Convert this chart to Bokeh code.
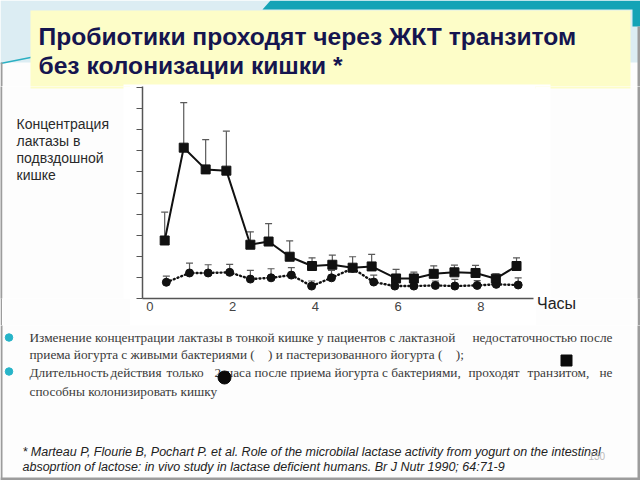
from bokeh.plotting import figure
from bokeh.layouts import column, row
from bokeh.models import (Range1d, FixedTicker, Whisker, TeeHead, ColumnDataSource, LinearAxis)
from bokeh.core.properties import value
from bokeh.embed import file_html
from bokeh.resources import INLINE

# ---------------- data ----------------
hours_live = [0.36, 0.82, 1.35, 1.85, 2.43, 2.87, 3.38, 3.92, 4.41, 4.90, 5.36, 5.95, 6.38, 6.86, 7.36, 7.87, 8.36, 8.86]
lactase_live = [2.75, 7.15, 6.12, 6.06, 2.55, 2.70, 1.98, 1.54, 1.60, 1.46, 1.52, 0.95, 0.95, 1.17, 1.24, 1.21, 0.94, 1.54]
live_err_top = [4.09, 9.29, 7.53, 7.93, 3.16, 3.55, 2.73, 1.93, 2.06, 1.98, 2.09, 1.38, 1.25, 1.55, 1.58, 1.57, 1.17, 1.93]

hours_past = [0.40, 0.96, 1.41, 1.93, 2.43, 2.93, 3.42, 3.91, 4.39, 4.90, 5.41, 5.92, 6.38, 6.90, 7.37, 7.91, 8.37, 8.90]
lactase_past = [0.77, 1.21, 1.21, 1.24, 0.92, 0.98, 1.11, 0.59, 0.98, 1.43, 0.78, 0.59, 0.59, 0.62, 0.59, 0.62, 0.67, 0.64]
past_err_top = [1.06, 1.68, 1.60, 1.62, 1.33, 1.41, 1.46, 0.83, 1.33, 1.55, 1.11, 0.85, 0.85, 0.83, 0.91, 0.85, 0.83, 0.98]

x_ticks = [0, 2, 4, 6, 8]
y_ticks = [0, 1, 2, 3, 4, 5, 6, 7, 8, 9, 10]

title_lines = ["Пробиотики проходят через ЖКТ транзитом", "без колонизации кишки *"]
y_label_lines = ["Концентрация", "лактазы в", "подвздошной", "кишке"]
x_label = "Часы"
NB = "\u00a0\u00a0\u00a0\u00a0"
# body text, justified lines split into pieces: (text, x, align, y)
body_pieces = [
    ("Изменение концентрации лактазы в тонкой кишке у пациентов с лактазной", 29, "left", 337),
    ("недостаточностью", 472, "left", 337),
    ("после", 612, "right", 337),
    ("приема йогурта с живыми бактериями (" + NB + ") и пастеризованного йогурта (" + NB + ");", 29, "left", 354),
    ("Длительность", 29, "left", 372),
    ("действия", 110, "left", 372),
    ("только", 166, "left", 372),
    ("2", 214, "left", 372),
    ("часа после приема йогурта с бактериями,", 226, "left", 372),
    ("проходят", 468, "left", 372),
    ("транзитом,", 527, "left", 372),
    ("не", 612, "right", 372),
    ("способны колонизировать кишку", 29, "left", 391),
]
foot_lines = [
    "* Marteau P, Flourie B, Pochart P. et al. Role of the microbilal lactase activity from yogurt on the intestinal",
    "absoprtion of lactose: in vivo study in lactase deficient humans. Br J Nutr 1990; 64:71-9",
]
page_no = "130"

BG = "#fdfdfd"
TEAL = "#14a3b6"
YELLOW = "#fdfdc8"
GREY = "#9c9c9c"
AXB = 27  # bottom border of the middle row (x-axis labels)


def decorate(f):
    # slide decorations in slide pixel coordinates (y downward)
    f.quad(left=0, right=640, top=0, bottom=62, color="#dcedf3", line_color=None)
    f.patch([270, 640, 640, 632, 632, 262], [0, 0, 26, 26, 9, 9], color=TEAL, line_color=None)
    f.line([0, 40], [63, 55], line_color="#2bb0c2", line_width=1.5)
    f.quad(left=30, right=630, top=10, bottom=88, color=YELLOW, line_color=None)
    f.quad(left=123, right=550, top=84, bottom=310, color="#ffffff", line_color=None)
    f.quad(left=0, right=2, top=62, bottom=480, color=GREY, line_color=None)
    f.quad(left=637, right=640, top=26, bottom=480, color=GREY, line_color=None)
    f.quad(left=0, right=640, top=477, bottom=480, color=GREY, line_color=None)


def panel(x0, y0, w, h, bottom_border=0):
    f = figure(width=w, height=h, x_range=Range1d(x0, x0 + w), y_range=Range1d(y0 + h - bottom_border, y0),
               output_backend="svg", toolbar_location=None, min_border=0,
               x_axis_type=None, y_axis_type=None)
    f.min_border_bottom = bottom_border
    f.outline_line_color = None
    f.border_fill_color = BG
    f.background_fill_color = BG
    decorate(f)
    return f


def solid(w, h, color):
    f = figure(width=w, height=h, output_backend="svg", toolbar_location=None, min_border=0,
               x_axis_type=None, y_axis_type=None, x_range=Range1d(0, 1), y_range=Range1d(0, 1))
    f.min_border_bottom = AXB
    f.outline_line_color = None
    f.border_fill_color = color
    f.background_fill_color = color
    return f


def txt(f, texts, xs, ys, size, color="#222222", font="Liberation Sans", style="normal",
        baseline="middle", align="left"):
    f.text(x=xs, y=ys, text=texts, text_font=value(font), text_font_size=value(f"{size}px"),
           text_color=color, text_font_style=value(style), text_baseline=value(baseline),
           text_align=value(align))


# ---------------- top panel: title ----------------
T = panel(0, 0, 640, 86)
txt(T, title_lines, [38, 38], [36, 65], 24.6, "#15154f", style="bold")

# ---------------- left panel: y label ----------------
Lline = solid(2, 239, GREY)
L = panel(2, 86, 128, 239, bottom_border=AXB)
txt(L, y_label_lines, [16] * 4, [123, 140, 157, 174], 14, "#2a2a2a")

# ---------------- right panel: x label as an axis label ----------------
R = panel(535, 86, 102, 239, bottom_border=AXB)
r_axis = LinearAxis(ticker=FixedTicker(ticks=[556]), major_label_overrides={556: x_label},
                    axis_line_color=None, major_tick_line_color=None, minor_tick_line_color=None,
                    major_tick_in=0, major_tick_out=0,
                    major_label_text_font="Liberation Sans", major_label_text_font_size="16px",
                    major_label_text_color="#222222", major_label_standoff=-4)
R.add_layout(r_axis, "below")
Rline = solid(3, 239, GREY)

# ---------------- bottom panel: body text ----------------
B = panel(0, 325, 640, 155)
B.scatter([8.5, 8.5], [337, 371], marker="circle", size=7.5, color="#27b4c8")
for t, x, al, y in body_pieces:
    txt(B, [t], [x], [y], 13.3, "#3a3a3a", font="Liberation Serif", align=al)
B.scatter([224], [377], marker="circle", size=13, color="#0a0a0a")
B.scatter([566], [360], marker="square", size=11, color="#0a0a0a")
txt(B, foot_lines, [22, 22], [451, 466], 12.5, "#222222", style="italic")
txt(B, [page_no], [588], [455], 10, "#bbbbbb")

# ---------------- chart ----------------
C = figure(width=405, height=239, output_backend="svg", toolbar_location=None,
           x_range=Range1d(-0.176, 9.27), y_range=Range1d(0, 10.05),
           min_border_left=12, min_border_right=2, min_border_top=0, min_border_bottom=AXB)
C.border_fill_color = "#ffffff"
C.background_fill_color = "#ffffff"
C.outline_line_color = None
C.grid.grid_line_color = None

live = ColumnDataSource(dict(x=hours_live, y=lactase_live, top=live_err_top))
past = ColumnDataSource(dict(x=hours_past, y=lactase_past, top=past_err_top))

for src in (live, past):
    w = Whisker(source=src, base="x", upper="top", lower="y", dimension="height",
                line_color="#5a5a5a", line_width=1.2, level="underlay",
                upper_head=TeeHead(size=7, line_color="#5a5a5a", line_width=1.2), lower_head=None)
    C.add_layout(w)

C.line("x", "y", source=past, line_color="#111111", line_width=2.4, line_dash="1 3", line_cap="round")
C.scatter("x", "y", source=past, marker="circle", size=8, color="#111111")
C.line("x", "y", source=live, line_color="#111111", line_width=2)
C.scatter("x", "y", source=live, marker="square", size=9, color="#111111")

C.xaxis.ticker = FixedTicker(ticks=x_ticks)
C.yaxis.ticker = FixedTicker(ticks=y_ticks)
for ax in (C.xaxis, C.yaxis):
    ax.axis_line_color = "#555555"
    ax.axis_line_width = 1.5
    ax.minor_tick_line_color = None
    ax.major_tick_line_color = "#555555"
    ax.major_tick_line_width = 1.2
C.xaxis.major_tick_out = 0
C.xaxis.major_tick_in = 0
C.xaxis.major_label_text_font = "Liberation Sans"
C.xaxis.major_label_text_font_size = "13px"
C.xaxis.major_label_text_color = "#444444"
C.xaxis.major_label_standoff = 3
C.yaxis.major_tick_out = 6
C.yaxis.major_tick_in = 0
C.yaxis.major_label_standoff = 0
C.yaxis.major_label_overrides = {t: "" for t in y_ticks}

layout = column(T, row(Lline, L, C, R, Rline, spacing=0), B, spacing=0)
open("out.html", "w").write(file_html(layout, INLINE))
